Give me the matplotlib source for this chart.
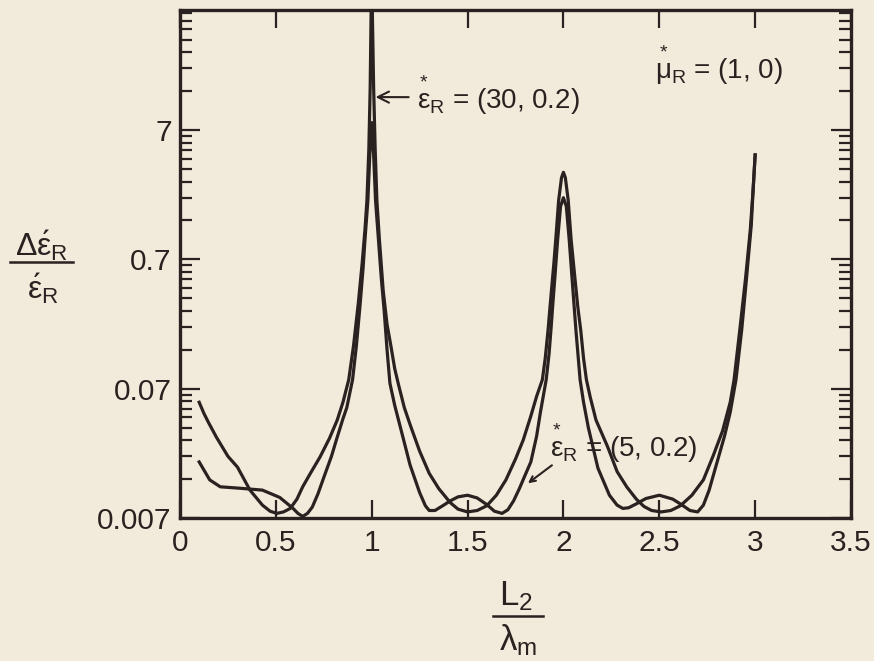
import matplotlib
matplotlib.use("Agg")
import matplotlib.pyplot as plt
from matplotlib.ticker import FixedLocator, NullFormatter
from matplotlib.lines import Line2D

# ---------------- data ----------------
u_x = [0.10, 0.125, 0.15, 0.19, 0.25, 0.30, 0.365, 0.43, 0.47, 0.505, 0.54, 0.575, 0.61,
       0.64, 0.68, 0.73, 0.78, 0.82, 0.85, 0.88, 0.905, 0.93, 0.95, 0.965, 0.975, 0.985,
       0.992, 0.997, 1.000, 1.003, 1.010, 1.018, 1.027, 1.04, 1.06, 1.08, 1.10, 1.12,
       1.14, 1.17, 1.20, 1.25, 1.30, 1.35, 1.41, 1.45, 1.50, 1.55, 1.60, 1.65, 1.70,
       1.75, 1.79, 1.83, 1.86, 1.89, 1.905, 1.92, 1.93, 1.95, 1.96, 1.975, 1.99, 2.0,
       2.01, 2.025, 2.04, 2.06, 2.075, 2.09, 2.105, 2.12, 2.14, 2.17, 2.23, 2.28, 2.33,
       2.38, 2.42, 2.46, 2.51, 2.56, 2.61, 2.67, 2.73, 2.78, 2.83, 2.87, 2.89, 2.92,
       2.95, 2.975, 2.99, 3.0]
u_y = [0.055, 0.045, 0.038, 0.0295, 0.021, 0.0173, 0.0115, 0.0088, 0.0079, 0.0076, 0.0078,
       0.0083, 0.0098, 0.0122, 0.0155, 0.0207, 0.029, 0.040, 0.055, 0.082, 0.15, 0.32,
       0.65, 1.2, 2.0, 5.0, 15, 60, 100, 60, 15, 5.0, 2.0, 1.0, 0.40, 0.22, 0.15, 0.10,
       0.075, 0.050, 0.037, 0.023, 0.0155, 0.0118, 0.0092, 0.0082, 0.0078, 0.0080,
       0.0087, 0.0105, 0.0138, 0.020, 0.028, 0.043, 0.061, 0.082, 0.12, 0.2, 0.3, 0.65,
       1.0, 2.0, 3.0, 3.3, 3.0, 2.0, 1.0, 0.5, 0.3, 0.2, 0.12, 0.082, 0.06, 0.04, 0.025,
       0.016, 0.0122, 0.0098, 0.0086, 0.008, 0.0078, 0.008, 0.0087, 0.0105, 0.0138,
       0.021, 0.033, 0.055, 0.082, 0.2, 0.5, 1.2, 2.5, 4.5]

w_x = [0.10, 0.155, 0.21, 0.31, 0.43, 0.52, 0.59, 0.615, 0.64, 0.665, 0.69, 0.72, 0.75,
       0.79, 0.82, 0.85, 0.87, 0.90, 0.92, 0.94, 0.955, 0.965, 0.98, 0.99, 1.0, 1.01,
       1.02, 1.035, 1.05, 1.065, 1.08, 1.095, 1.12, 1.15, 1.20, 1.25, 1.28, 1.30, 1.33,
       1.37, 1.41, 1.45, 1.50, 1.55, 1.60, 1.64, 1.68, 1.71, 1.74, 1.77, 1.80, 1.83,
       1.86, 1.88, 1.91, 1.925, 1.935, 1.945, 1.955, 1.97, 1.985, 2.0, 2.015, 2.03,
       2.045, 2.065, 2.087, 2.105, 2.13, 2.18, 2.24, 2.28, 2.31, 2.34, 2.38, 2.43, 2.50,
       2.57, 2.62, 2.66, 2.70, 2.73, 2.76, 2.80, 2.84, 2.87, 2.90, 2.93, 2.955, 2.98,
       2.99, 3.0]
w_y = [0.019, 0.0138, 0.0122, 0.0119, 0.0115, 0.0101, 0.0083, 0.0076, 0.0072, 0.0076,
       0.0085, 0.0108, 0.0144, 0.021, 0.0295, 0.041, 0.050, 0.082, 0.15, 0.32, 0.6, 1.0,
       2.0, 4.5, 8.0, 4.5, 2.0, 1.0, 0.5, 0.28, 0.14, 0.077, 0.052, 0.035, 0.018, 0.011,
       0.0087, 0.0080, 0.0080, 0.0087, 0.0095, 0.0102, 0.0105, 0.0100, 0.0089, 0.0079,
       0.0076, 0.0081, 0.0095, 0.0118, 0.0150, 0.0190, 0.030, 0.046, 0.082, 0.13, 0.2,
       0.32, 0.5, 1.0, 1.8, 2.1, 1.8, 1.0, 0.5, 0.2, 0.082, 0.055, 0.035, 0.017, 0.0105,
       0.0088, 0.0083, 0.0084, 0.0090, 0.0099, 0.0105, 0.0098, 0.0088, 0.0080, 0.0078,
       0.0088, 0.0115, 0.0186, 0.030, 0.046, 0.082, 0.2, 0.5, 1.3, 2.5, 4.5]

x_ticks = [0, 0.5, 1, 1.5, 2, 2.5, 3, 3.5]
x_tick_labels = ["0", "0.5", "1", "1.5", "2", "2.5", "3", "3.5"]
y_ticks = [0.007, 0.07, 0.7, 7]
y_tick_labels = ["0.007", "0.07", "0.7", "7"]
y_minor = [0.007 * k * 10 ** d for d in range(4) for k in range(2, 10)]

label_30 = r"$\overset{*}{ε}_{\mathrm{R}}$ = (30, 0.2)"
label_5 = r"$\overset{*}{ε}_{\mathrm{R}}$ = (5, 0.2)"
label_mu = r"$\overset{*}{μ}_{\mathrm{R}}$ = (1, 0)"

# ---------------- style ----------------
bg = "#f2ebdb"
ink = "#2a2220"
plt.rcParams["font.family"] = ["Liberation Sans", "DejaVu Sans"]
plt.rcParams["mathtext.fontset"] = "custom"
plt.rcParams["mathtext.rm"] = "Liberation Sans"
plt.rcParams["mathtext.it"] = "Liberation Sans"
plt.rcParams["mathtext.bf"] = "Liberation Sans:bold"

W, H = 874, 661
fig = plt.figure(figsize=(W / 100, H / 100), dpi=100, facecolor=bg)
L, R, T, B = 180, 851, 10, 518
ax = fig.add_axes([L / W, 1 - B / H, (R - L) / W, (B - T) / H])
ax.set_facecolor(bg)

ax.plot(u_x, u_y, color=ink, lw=2.3, solid_joinstyle="round")
ax.plot(w_x, w_y, color=ink, lw=2.3, solid_joinstyle="round")

ax.set_yscale("log")
ax.set_xlim(0, 3.5)
ax.set_ylim(0.007, 59.4)

ax.xaxis.set_major_locator(FixedLocator(x_ticks))
ax.set_xticklabels(x_tick_labels)
ax.yaxis.set_major_locator(FixedLocator(y_ticks))
ax.yaxis.set_minor_locator(FixedLocator(y_minor))
ax.set_yticklabels(y_tick_labels)
ax.yaxis.set_minor_formatter(NullFormatter())

ax.tick_params(which="both", direction="in", top=True, right=True, color=ink,
               labelcolor=ink, labelsize=21.5, width=1.6)
ax.tick_params(which="major", axis="y", length=14.5, pad=6)
ax.tick_params(which="major", axis="x", length=13, pad=8)
ax.tick_params(which="minor", axis="y", length=8.5)
ax.tick_params(which="minor", axis="x", length=0)
for s in ax.spines.values():
    s.set_color(ink)
    s.set_linewidth(2.4)

# annotations
ax.annotate(label_30, xy=(1.02, 12.6), xytext=((417 - L) / (R - L), (B - 95) / (B - T)),
            textcoords="axes fraction", ha="left", va="center", fontsize=20, color=ink,
            arrowprops=dict(arrowstyle="->", color=ink, lw=1.5, shrinkA=4, shrinkB=0,
                            relpos=(0, 0.45)))
ax.text((550 - L) / (R - L), (B - 443) / (B - T), label_5, transform=ax.transAxes,
        ha="left", va="center", fontsize=20, color=ink)
ax.annotate("", xy=(1.815, 0.0130), xytext=(1.94, 0.0179),
            arrowprops=dict(arrowstyle="->", color=ink, lw=1.5, shrinkA=0, shrinkB=0))
ax.text((655 - L) / (R - L), (B - 65) / (B - T), label_mu, transform=ax.transAxes,
        ha="left", va="center", fontsize=20, color=ink)

# y-axis label as a fraction
fig.text(42 / W, 1 - 246 / H, r"$\Delta \acute{ε}_{\mathrm{R}}$", ha="center", va="center",
         fontsize=23, color=ink)
fig.add_artist(Line2D([10 / W, 73 / W], [1 - 262 / H, 1 - 262 / H], color=ink, lw=1.8))
fig.text(43 / W, 1 - 289 / H, r"$\acute{ε}_{\mathrm{R}}$", ha="center", va="center",
         fontsize=23, color=ink)

# x-axis label as a fraction
fig.text(516 / W, 1 - 596 / H, r"$\mathrm{L}_{2}$", ha="center", va="center",
         fontsize=25, color=ink)
fig.add_artist(Line2D([493 / W, 543 / W], [1 - 616 / H, 1 - 616 / H], color=ink, lw=1.8))
fig.text(518 / W, 1 - 640 / H, r"$λ_{\mathrm{m}}$", ha="center", va="center",
         fontsize=25, color=ink)

fig.savefig("out.png", dpi=100, facecolor=bg)
